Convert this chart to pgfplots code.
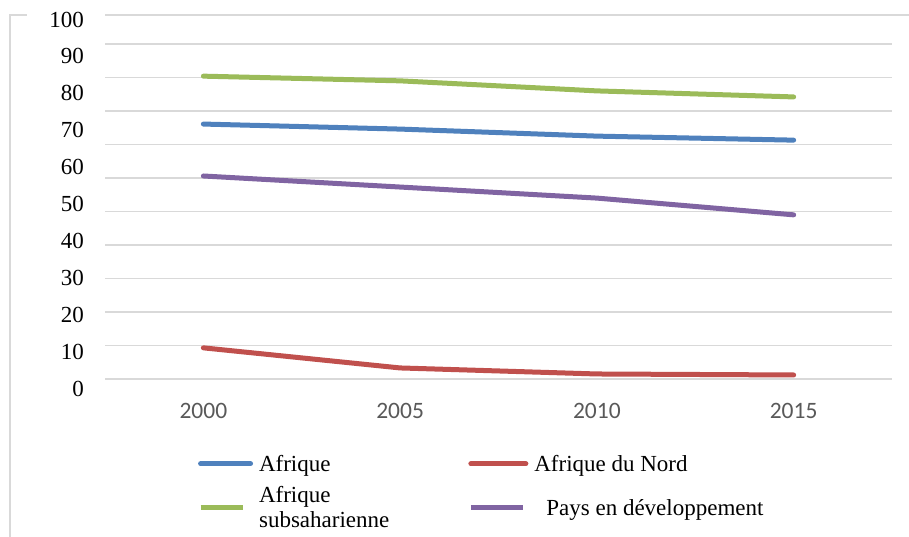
\documentclass[border=0pt]{standalone}
\usepackage{pgfplots}
\pgfplotsset{compat=1.18}
\usepackage{fontspec}
\setmainfont{Liberation Serif}
\newfontfamily\axisfont{Carlito}

\definecolor{cBlue}{HTML}{4F81BD}
\definecolor{cRed}{HTML}{C0504D}
\definecolor{cGreen}{HTML}{9BBB59}
\definecolor{cPurple}{HTML}{8064A2}
\definecolor{gridgray}{HTML}{D9D9D9}
\definecolor{ticktext}{HTML}{595959}

\begin{document}
\begin{tikzpicture}[x=1pt,y=1pt]
% chart frame
\draw[gridgray, line width=1.5pt] (-95pt,-170pt) -- (-95pt,364pt) -- (-78pt,364pt);
\draw[gridgray, line width=1.5pt] (0pt,364pt) -- (815pt,364pt);

\begin{axis}[
  at={(0pt,0pt)}, anchor=south west,
  scale only axis, width=787pt, height=335pt,
  xmin=-0.5, xmax=3.5, ymin=0, ymax=100,
  xtick={0,1,2,3}, xticklabels={2000,2005,2010,2015},
  ytick={0,10,...,100}, yticklabels={},
  ymajorgrids, grid style={gridgray, line width=1.5pt},
  axis line style={draw=none}, major tick length=0pt,
  xticklabel style={font=\axisfont\fontsize{23.5}{26}\selectfont, text=ticktext,
    inner sep=0pt, anchor=north, yshift=-24pt},
  every axis plot/.append style={line width=5pt, line cap=round, line join=round},
  legend columns=2,
  legend cell align=left,
  legend style={draw=none, fill=none, at={(0.1142,-0.22)}, anchor=north west,
    font=\fontsize{23}{25}\selectfont,
    nodes={align=left, inner sep=0pt, anchor=west},
    column sep=6pt, row sep=14pt,
    /tikz/every even column/.append style={column sep=79pt}},
]
\addplot[cBlue, legend image code/.code={\draw[cBlue, line width=5pt, line cap=round] (0pt,0pt) -- (50pt,0pt);}]
  coordinates {(0,76.1) (1,74.6) (2,72.5) (3,71.3)};
\addlegendentry{Afrique}
\addplot[cRed, legend image code/.code={\draw[cRed, line width=5pt, line cap=round] (0pt,0pt) -- (55pt,0pt);}]
  coordinates {(0,9.3) (1,3.3) (2,1.5) (3,1.2)};
\addlegendentry{Afrique du Nord}
\addplot[cGreen, legend image code/.code={\draw[cGreen, line width=5pt, line cap=butt] (0pt,0pt) -- (42pt,0pt);}]
  coordinates {(0,90.4) (1,89.0) (2,86.0) (3,84.2)};
\addlegendentry{Afrique\\subsaharienne}
\addplot[cPurple, legend image code/.code={\draw[cPurple, line width=5pt, line cap=butt] (0pt,0pt) -- (52pt,0pt);}]
  coordinates {(0,60.6) (1,57.3) (2,54.0) (3,49.0)};
\addlegendentry{\hspace{12pt}Pays en développement}
\end{axis}

% value labels of the vertical axis
\begin{axis}[
  at={(0pt,-10pt)}, anchor=south west,
  scale only axis, width=787pt, height=369.5pt,
  xmin=0, xmax=1, ymin=0, ymax=100,
  xtick=\empty, ytick={0,10,...,100},
  axis line style={draw=none}, major tick length=0pt,
  /pgf/number format/assume math mode=true,
  yticklabel style={font=\fontsize{23}{25}\selectfont, inner sep=0pt, anchor=east, xshift=-21pt},
]
\end{axis}

\pgfresetboundingbox
\useasboundingbox (-105pt,-158pt) rectangle (804pt,379pt);
\end{tikzpicture}
\end{document}
